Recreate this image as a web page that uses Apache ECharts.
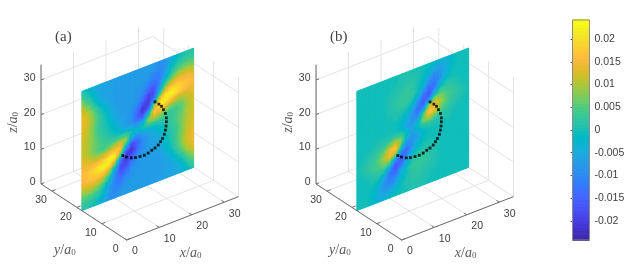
<!DOCTYPE html>
<html><head><meta charset="utf-8">
<style>html,body{margin:0;padding:0;background:#fff}#c{width:636px;height:270px}</style>
<script src="https://cdn.jsdelivr.net/npm/echarts@6/dist/echarts.min.js"></script>
</head><body><div id="c"></div>
<script>
// tick labels
const xTicks=[0,10,20,30], yTicks=[0,10,20,30], zTicks=[0,10,20,30];
const barTicks=[0.02,0.015,0.01,0.005,0,-0.005,-0.01,-0.015,-0.02];
// sampled slice values (units of 1e-3), rows top (z max) to bottom (z=0), columns x=0..max
const fieldA=[
[1,-1,-3,-5,-6,-6,-7,-7,-7,-7,-7,-7,-7,-7,-8,-8,-5,-2,0,1,1],
[4,1,-2,-5,-6,-6,-7,-7,-7,-7,-7,-7,-7,-8,-10,-8,-3,0,2,3,3],
[8,4,0,-4,-6,-6,-7,-7,-7,-7,-7,-7,-8,-11,-11,-7,-1,3,5,6,6],
[12,8,3,-2,-5,-6,-7,-7,-7,-7,-7,-8,-10,-13,-11,-4,3,8,10,11,10],
[14,12,7,2,-2,-5,-7,-7,-7,-7,-8,-9,-14,-17,-9,3,10,14,15,15,14],
[15,13,9,4,0,-3,-6,-7,-7,-7,-8,-12,-19,-18,-3,12,18,19,18,17,16],
[15,13,9,4,1,-2,-5,-7,-7,-8,-10,-17,-21,-12,12,22,24,22,18,16,15],
[14,12,8,4,1,-1,-4,-6,-7,-9,-14,-22,-18,8,24,23,18,14,12,13,14],
[13,12,8,4,2,0,-3,-5,-7,-9,-15,-18,-2,18,17,13,9,7,8,11,13],
[13,11,8,5,3,1,-1,-3,-5,-7,-9,-5,10,12,9,5,3,4,6,10,13],
[12,11,8,6,4,3,2,2,3,1,-2,1,3,2,2,3,3,5,7,11,12],
[13,11,8,5,4,6,9,12,10,-5,-9,-7,-5,-3,-1,1,3,5,8,11,13],
[14,13,11,10,11,14,17,18,-2,-18,-15,-9,-7,-5,-3,0,2,4,8,12,13],
[15,15,15,16,19,23,24,8,-18,-22,-14,-9,-7,-6,-4,-1,1,4,8,12,14],
[16,17,19,22,24,22,12,-12,-21,-17,-10,-8,-7,-7,-5,-2,1,4,9,13,15],
[16,17,18,19,18,12,-3,-18,-19,-12,-8,-7,-7,-7,-6,-3,0,4,9,13,15],
[14,15,15,14,10,3,-9,-17,-14,-9,-8,-7,-7,-7,-7,-5,-2,2,7,12,14],
[10,11,10,8,3,-4,-11,-13,-10,-8,-7,-7,-7,-7,-7,-6,-4,-1,3,8,12],
[6,6,5,3,-1,-7,-11,-11,-8,-7,-7,-7,-7,-7,-7,-6,-6,-4,-1,4,8],
[3,3,2,0,-3,-8,-10,-8,-7,-7,-7,-7,-7,-7,-7,-6,-6,-5,-3,1,4],
[1,1,0,-2,-5,-8,-8,-7,-7,-7,-7,-7,-7,-7,-7,-6,-6,-5,-4,-2,1]];
const fieldB=[
[0,0,0,0,0,0,0,0,1,1,1,0,0,0,-1,-2,-3,-2,0,0,0],
[0,0,0,0,0,0,0,0,1,1,1,1,0,-2,-4,-6,-4,-2,0,0,0],
[0,0,0,0,0,0,0,1,1,2,2,1,-1,-5,-9,-8,-4,-1,0,0,0],
[0,0,0,0,0,0,1,1,2,3,2,0,-2,-9,-12,-8,-3,0,0,0,0],
[0,0,0,0,0,0,1,2,3,3,3,0,-6,-14,-13,-4,1,1,0,0,0],
[0,0,0,0,0,0,1,2,3,3,1,-4,-13,-18,-7,3,3,2,1,0,0],
[0,0,0,0,0,0,1,1,2,1,-2,-10,-17,-10,7,8,5,4,2,1,0],
[0,0,0,0,0,0,0,1,0,-2,-7,-14,-10,10,16,11,6,3,2,1,0],
[0,0,0,0,0,0,0,0,-1,-4,-9,-10,4,19,15,7,4,2,1,0,0],
[0,0,0,0,0,0,0,0,-2,-6,-8,-3,9,11,6,3,2,1,0,0,0],
[0,0,0,0,1,1,1,2,2,-1,-5,-1,2,2,1,1,1,0,0,0,0],
[0,0,0,1,2,3,6,11,9,-3,-8,-6,-2,0,0,0,0,0,0,0,0],
[0,0,1,2,4,7,15,19,4,-10,-9,-4,-1,0,0,0,0,0,0,0,0],
[0,1,2,3,6,11,16,10,-10,-14,-7,-2,0,1,0,0,0,0,0,0,0],
[0,1,2,4,5,8,7,-10,-17,-10,-2,1,2,1,1,0,0,0,0,0,0],
[0,0,1,2,3,3,-7,-18,-13,-4,1,3,3,2,1,0,0,0,0,0,0],
[0,0,0,1,1,-4,-13,-14,-6,0,3,3,3,2,1,0,0,0,0,0,0],
[0,0,0,0,-3,-8,-12,-9,-2,0,2,3,2,1,1,0,0,0,0,0,0],
[0,0,0,-1,-4,-8,-9,-5,-1,1,2,2,1,1,0,0,0,0,0,0,0],
[0,0,0,-2,-4,-6,-4,-2,0,1,1,1,1,0,0,0,0,0,0,0,0],
[0,0,0,-2,-3,-2,-1,0,0,0,1,1,1,0,0,0,0,0,0,0,0]];
// dotted arc on the slice
const arcX=[12.6,13.7,15.2,16.5,17.9,19.2,20.4,21.5,22.5,23.5,24.2,24.8,25.4,25.7,25.9,26.0,26.0,25.7,25.1,24.5,23.7,22.5];
const arcZ=[11.3,10.5,9.7,9.3,9.1,9.0,9.2,9.6,9.9,10.4,11.1,11.8,12.8,13.9,15.0,16.2,17.3,18.7,20.0,21.2,22.1,23.2];
const planeY=18;
const LIM=34.4, SCALE=0.001, CMAX=0.0242;
const parula=['#3e26a8','#402aB4','#412fc0','#4332cb','#4537d5','#463cde','#4741e5','#4747eb','#484cf0','#4752f4','#4758f8','#465dfb','#4563fd','#426afe','#3e6fff','#3875fe','#327bfc','#2f81fa','#2d87f7','#2d8cf3','#2b91ef','#2796eb','#259be7','#23a0e5','#20a5e3','#1ca9df','#18addb','#11b1d6','#08b5d0','#01b8ca','#02bac3','#0bbdbc','#19bfb5','#24c1ae','#2cc3a7','#31c69f','#37c897','#3fca8e','#4acb84','#57cc7a','#64cd6f','#72cc64','#81cc59','#8fca4e','#9dc942','#abc739','#b9c431','#c5c22a','#d1bf27','#dcbd29','#e6bb2d','#efba36','#f8ba3d','#febe3c','#fec338','#fec933','#fccf30','#f9d62d','#f7dc2a','#f5e327','#f5e924','#f6ef20','#f7f51b','#f9fb15'];

const PX=[3.25,-2.49,0], PY=[1.26,1.63,3.467]; // 3-D view
const proj=(x,y,z)=>[PX[0]*x+PX[1]*y, PY[0]*x+PY[1]*y+PY[2]*z];
const cssColor=v=>echarts.color.lerp(Math.max(0,Math.min(1,(v+CMAX)/(2*CMAX))),parula);
const TEXT='#404040', AXIS='#6e6e6e', GRIDC='#e4e4e4';
const mathRich={i:{fontFamily:'Liberation Serif',fontStyle:'italic',fontSize:14,fill:'#5a5a5a'},
 n:{fontFamily:'Liberation Serif',fontSize:14,fill:'#5a5a5a'},
 s:{fontFamily:'Liberation Serif',fontSize:9,fill:'#5a5a5a',padding:[5,0,0,0]}};
const axisTitles=['{i|x}{n|/}{i|a}{s|0}','{i|y}{n|/}{i|a}{s|0}','{i|z}{n|/}{i|a}{s|0}'];

function gridSegs(){
  const s=[];
  for(const t of xTicks){s.push([t,0,0,t,LIM,0]);s.push([t,LIM,0,t,LIM,LIM]);}
  for(const t of yTicks){s.push([0,t,0,LIM,t,0]);s.push([LIM,t,0,LIM,t,LIM]);}
  for(const t of zTicks){s.push([0,LIM,t,LIM,LIM,t]);s.push([LIM,0,t,LIM,LIM,t]);}
  return s;
}
function axisSegs(){
  const s=[[0,0,0,LIM,0,0],[0,0,0,0,LIM,0],[0,LIM,0,0,LIM,LIM]];
  for(const t of xTicks)s.push([t,0,0,t,1.1,0]);
  for(const t of yTicks)s.push([0,t,0,1.1,t,0]);
  for(const t of zTicks)s.push([0,LIM,t,0.9,LIM,t]);
  return s;
}
const segRender=(color,width)=>(p,api)=>{
  const a=api.coord(proj(api.value(0),api.value(1),api.value(2)));
  const b=api.coord(proj(api.value(3),api.value(4),api.value(5)));
  return {type:'line',shape:{x1:a[0],y1:a[1],x2:b[0],y2:b[1]},style:{stroke:color,lineWidth:width}};
};
function planeSeries(field,idx){
  const nz=field.length-1,nx=field[0].length-1,data=[];
  for(let r=0;r<nz;r++)for(let c=0;c<nx;c++)data.push([c,r]);
  const SUB=4;
  return {type:'custom',xAxisIndex:idx,yAxisIndex:idx,silent:true,animation:false,progressive:0,z:3,data,
    renderItem(p,api){
      const c=api.value(0),r=api.value(1),kids=[];
      const v00=field[r+1][c],v10=field[r+1][c+1],v01=field[r][c],v11=field[r][c+1];
      const pt=(a,b)=>api.coord(proj((c+a)/nx*LIM,planeY,(nz-r-1+b)/nz*LIM));
      for(let i=0;i<SUB;i++)for(let j=0;j<SUB;j++){
        const a=(i+.5)/SUB,b=(j+.5)/SUB;
        const v=((1-a)*(1-b)*v00+a*(1-b)*v10+(1-a)*b*v01+a*b*v11)*SCALE;
        const col=cssColor(v);
        kids.push({type:'polygon',shape:{points:[pt(i/SUB,j/SUB),pt((i+1)/SUB,j/SUB),pt((i+1)/SUB,(j+1)/SUB),pt(i/SUB,(j+1)/SUB)]},
          style:{fill:col,stroke:col,lineWidth:1}});
      }
      return {type:'group',children:kids};
    }};
}
const tickTexts=[];
xTicks.forEach(t=>tickTexts.push({pos:[t,0,0],off:[t?10.5:8.3,t?11.5:11],txt:String(t),al:'center'}));
yTicks.forEach(t=>tickTexts.push({pos:[0,t,0],off:[-11,9.3],txt:String(t),al:'center'}));
zTicks.forEach(t=>tickTexts.push({pos:[0,LIM,t],off:[-5.5,-1.8],txt:String(t),al:'right'}));
function panelSeries(idx,field){
  const ax={xAxisIndex:idx,yAxisIndex:idx,silent:true,animation:false};
  return [
    {...ax,type:'custom',z:1,data:gridSegs(),renderItem:segRender(GRIDC,1)},
    planeSeries(field,idx),
    {...ax,type:'custom',z:4,data:axisSegs(),renderItem:segRender(AXIS,1)},
    {...ax,type:'custom',z:5,data:tickTexts.map((_,i)=>[i]),renderItem(p,api){
      const t=tickTexts[api.value(0)],c=api.coord(proj(...t.pos));
      return {type:'text',x:c[0]+t.off[0],y:c[1]+t.off[1],style:{text:t.txt,fill:TEXT,font:'10.5px "Liberation Sans"',align:t.al,verticalAlign:'middle'}};
    }},
    {...ax,type:'custom',z:5,data:axisTitles.map((_,i)=>[i]),
      renderItem(p,api){
        const k=api.value(0);
        const pos=[proj(LIM*.5,0,0),proj(0,LIM*.5,0),proj(0,LIM,LIM*.5)][k];
        const off=[[8,35],[-19,38],[-28,-2]][k];
        const c=api.coord(pos);
        return {type:'text',x:c[0]+off[0],y:c[1]+off[1],rotation:k==2?Math.PI/2:0,
          style:{text:axisTitles[k],rich:mathRich,align:'center',verticalAlign:'middle'}};
      }},
    {type:'scatter',xAxisIndex:idx,yAxisIndex:idx,silent:true,animation:false,z:6,symbol:'rect',symbolSize:2.8,
      itemStyle:{color:'#000'},data:arcX.map((x,i)=>proj(x,planeY,arcZ[i]))}
  ];
}
const hiddenX=(i)=>({type:'value',gridIndex:i,min:-126.7,max:143.3,show:false});
const hiddenY=(i)=>({type:'value',gridIndex:i,min:-30,max:240,show:false});
const levels=parula.map((_,i)=>i);
const chart=echarts.init(document.getElementById('c'),null,{renderer:'canvas'});
chart.setOption({
  animation:false,backgroundColor:'#fff',
  title:[{text:'(a)',left:50,top:25,textStyle:{fontFamily:'Liberation Serif',fontWeight:'normal',fontSize:15,color:'#444'}},
         {text:'(b)',left:325,top:25,textStyle:{fontFamily:'Liberation Serif',fontWeight:'normal',fontSize:15,color:'#444'}}],
  grid:[{left:0,top:0,width:270,height:270},{left:275,top:0,width:270,height:270},
        {left:572.5,top:20,width:17,height:220,show:true,borderColor:'#8c8c8c',borderWidth:1,backgroundColor:'transparent',z:3}],
  xAxis:[hiddenX(0),hiddenX(1),{type:'value',gridIndex:2,min:0,max:1,show:false}],
  yAxis:[hiddenY(0),hiddenY(1),{type:'value',gridIndex:2,min:-CMAX,max:CMAX,position:'right',
    splitLine:{show:false},axisLine:{show:false},
    axisTick:{show:true,inside:true,length:2,customValues:barTicks,lineStyle:{color:'#555'}},
    axisLabel:{show:true,customValues:barTicks,margin:5,color:TEXT,fontFamily:'Liberation Sans',fontSize:10.5,formatter:v=>String(+v)}}],
  series:[...panelSeries(0,fieldA),...panelSeries(1,fieldB),
    {type:'custom',xAxisIndex:2,yAxisIndex:2,silent:true,animation:false,z:2,data:levels,
     renderItem(p,api){
       const i=api.value(0),n=parula.length;
       const a=api.coord([0,-CMAX+2*CMAX*i/n]),b=api.coord([1,-CMAX+2*CMAX*(i+1)/n]);
       return {type:'rect',shape:{x:a[0],y:Math.floor(b[1]),width:b[0]-a[0],height:Math.ceil(a[1])-Math.floor(b[1])+1},style:{fill:parula[i]}};
     }}]
});
</script></body></html>
